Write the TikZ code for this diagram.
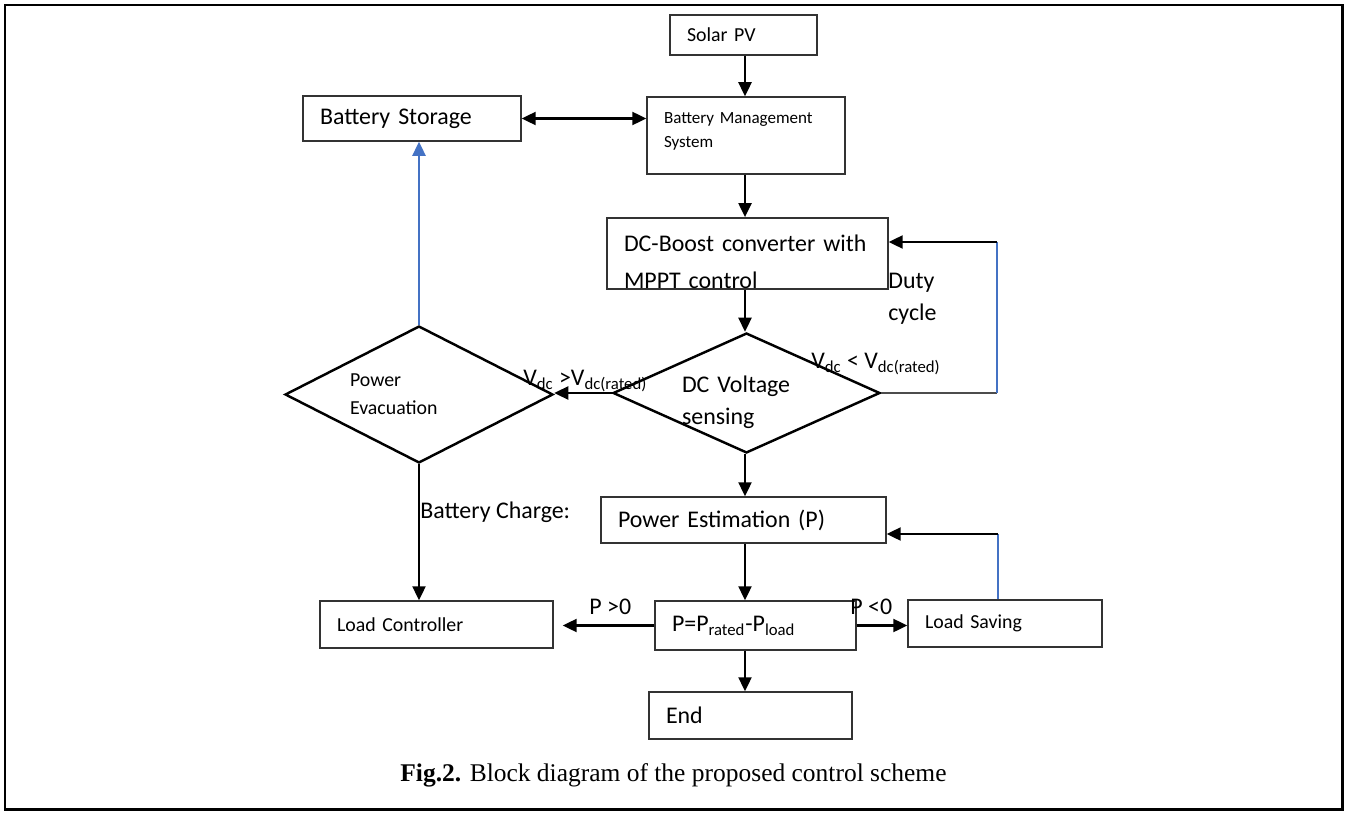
\documentclass[tikz,border=0pt]{standalone}
\usepackage{fontspec}
\setmainfont{Carlito}
\newfontfamily\capfont{Liberation Serif}
\usetikzlibrary{arrows.meta,positioning,calc,shapes.geometric}
\definecolor{wordblue}{RGB}{68,114,196}

\newcommand{\fsbig}{\fontsize{13.6}{18.2}\selectfont}
\newcommand{\fsmid}{\fontsize{11.3}{15.9}\selectfont}
\newcommand{\fssml}{\fontsize{9.7}{13.6}\selectfont}

\begin{document}
\begin{tikzpicture}[x=0.02cm,y=-0.02cm,>={Triangle[length=8pt,width=7.4pt]},
  blk/.style={draw=black!80,line width=0.8pt,align=left,inner xsep=0.34cm,inner ysep=0pt},
  dmd/.style={draw,diamond,line width=1.4pt,align=left,inner sep=0pt},
  lbl/.style={anchor=west,inner sep=0pt,align=left,font=\fsbig},
  arr/.style={->,line width=1.3pt},
  fbk/.style={line width=0.6pt,draw=wordblue}]
  \useasboundingbox (0,0) rectangle (1348,814);
  \draw[line width=1.7pt] (5,5) rectangle (1342,809);

  % main column
  \node[blk,font=\fsmid,text width=2.26cm,minimum height=0.8cm] (pv) at (743.5,35) {Solar PV};
  \node[blk,font=\fssml,text width=3.28cm,text depth=20pt,minimum height=1.54cm] (bms) at (746,135.5) {Battery Management\\System};
  \node[blk,font=\fontsize{13.6}{21.5}\selectfont,text width=4.94cm,text height=19pt,minimum height=1.42cm] (boost) at (747.5,253.5) {DC-Boost converter with\\MPPT control};
  \node[dmd,font=\fsbig,text width=2.58cm,text depth=9.5pt,minimum width=5.34cm,minimum height=2.4cm,shape aspect=2.2] (sense) at (746.5,393) {DC Voltage\\sensing};
  \node[blk,font=\fsbig,text width=5.02cm,minimum height=0.92cm] (est) at (743.5,520) {Power Estimation (P)};
  \node[blk,font=\fsbig,text width=3.34cm,minimum height=0.98cm] (pcalc) at (755.5,625.5) {P=P\textsubscript{rated}-P\textsubscript{load}};
  \node[blk,font=\fsbig,text width=3.38cm,minimum height=0.94cm] (fin) at (750.5,715.5) {End};

  % side blocks
  \node[blk,font=\fsbig,text width=3.68cm,minimum height=0.9cm] (bat) at (412,118.5) {Battery Storage};
  \node[dmd,font=\fsmid,text width=2.76cm,minimum width=5.36cm,minimum height=2.74cm,shape aspect=2] (evac) at (419,394.5) {Power\\Evacuation};
  \node[blk,font=\fsmid,text width=3.98cm,minimum height=0.94cm] (lctrl) at (436.5,624.5) {Load Controller};
  \node[blk,font=\fsmid,text width=3.2cm,minimum height=0.94cm] (lsave) at (1005,623.5) {Load Saving};

  \coordinate (col) at (745,0);
  \coordinate (dutyb) at (997,393);
  \coordinate (dutyt) at (997,242);
  \coordinate (savet) at (998,534);

  \draw[arr] (pv.south -| col) -- (bms.north -| col);
  \draw[arr] (bms.south -| col) -- (boost.north -| col);
  \draw[arr] (boost.south -| col) -- (sense.north -| col);
  \draw[arr] (sense.south -| col) -- (est.north -| col);
  \draw[arr] (est.south -| col) -- (pcalc.north -| col);
  \draw[arr] (pcalc.south -| col) -- (fin.north -| col);
  \draw[<->,line width=1.3pt] (bat.east) -- (bat.east -| bms.west);
  \draw[arr] (sense.west) -- (sense.west -| evac.east);
  \draw[arr,wordblue] (evac.north) -- (bat.south -| evac.north);
  \draw[arr] (evac.south) -- (lctrl.north -| evac.south);
  \draw[arr,shorten >=0.18cm] (pcalc.west) -- (pcalc.west -| lctrl.east);
  \draw[arr] (pcalc.east) -- (lsave.west |- pcalc.east);

  % feedback loops
  \draw[line width=0.8pt,black!70] (sense.east) -- (dutyb);
  \draw[fbk] (dutyb) -- (dutyt);
  \draw[arr] (dutyt) -- (dutyt -| boost.east);
  \draw[fbk] (lsave.north -| savet) -- (savet);
  \draw[arr] (savet) -- (savet -| est.east);

  % labels
  \node[lbl] (duty) at (888,299) {Duty\\cycle};
  \node[lbl] (vlow) at (811,364) {V\textsubscript{dc} < V\textsubscript{dc(rated)}};
  \node[lbl] (vhigh) at (523,381) {V\textsubscript{dc} >V\textsubscript{dc(rated)}};
  \node[lbl] (chg) at (420,512) {Battery Charge:};
  \node[lbl] (ppos) at (589,607) {P >0};
  \node[lbl] (pneg) at (850,607) {P <0};

  \node[font=\capfont\fontsize{14.5}{17}\selectfont] (cap) at (673.5,775) {\textbf{Fig.2.} Block diagram of the proposed control scheme};
\end{tikzpicture}
\end{document}
